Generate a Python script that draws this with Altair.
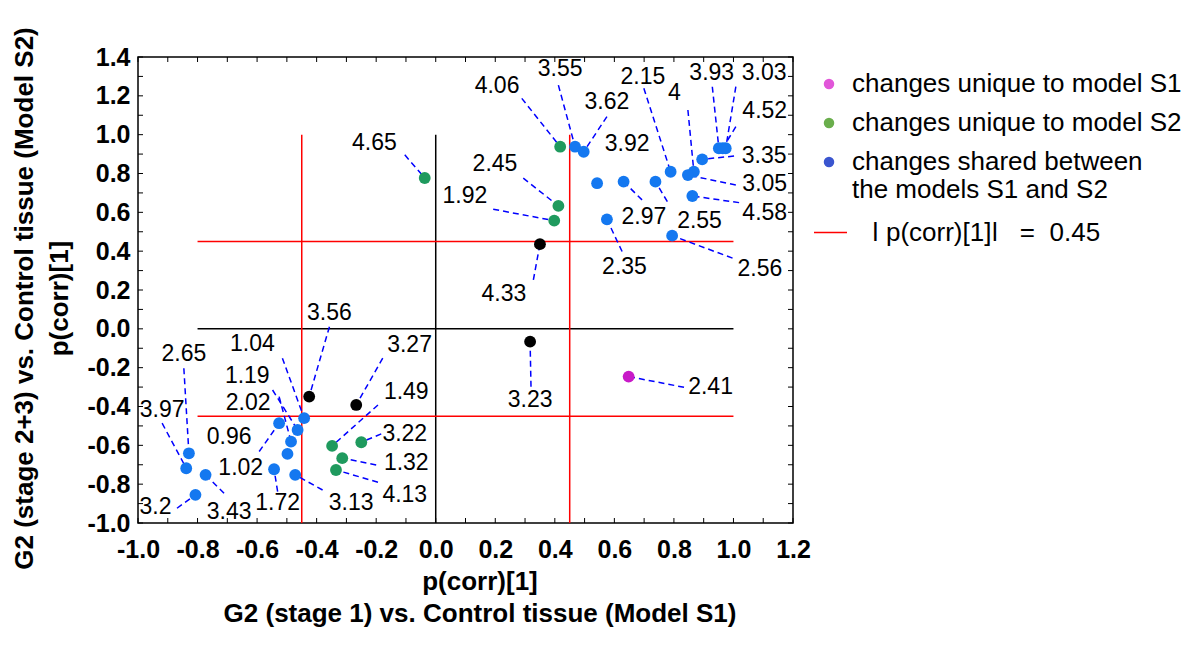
import altair as alt
import pandas as pd
import numpy as np

# ---------------- data ----------------
labels = ["4.06", "3.55", "3.62", "3.92", "2.97", "2.55", "2.15", "4", "3.93", "3.03",
          "4.52", "3.35", "3.05", "4.58", "2.35", "2.56", "2.45", "1.92", "4.33", "4.65",
          "3.23", "2.41", "3.56", "3.27", "1.49", "3.22", "1.32", "4.13", "1.04", "1.19",
          "2.02", "0.96", "1.02", "1.72", "3.13", "2.65", "3.97", "3.43", "3.2"]
groups = ["S2", "shared", "shared", "shared", "shared", "shared", "shared", "shared", "shared", "shared",
          "shared", "shared", "shared", "shared", "shared", "shared", "S2", "S2", "none", "S2",
          "none", "S1", "none", "none", "S2", "S2", "S2", "S2", "shared", "shared",
          "shared", "shared", "shared", "shared", "shared", "shared", "shared", "shared", "shared"]
pcorr_s1 = [0.418, 0.468, 0.497, 0.542, 0.631, 0.738, 0.789, 0.867, 0.951, 0.974,
            0.964, 0.895, 0.847, 0.862, 0.575, 0.794, 0.412, 0.398, 0.350, -0.037,
            0.317, 0.648, -0.425, -0.267, -0.348, -0.250, -0.314, -0.335, -0.442, -0.464,
            -0.486, -0.526, -0.498, -0.543, -0.472, -0.829, -0.838, -0.773, -0.807]
pcorr_s2 = [0.938, 0.938, 0.912, 0.750, 0.758, 0.758, 0.809, 0.809, 0.930, 0.930,
            0.930, 0.873, 0.792, 0.684, 0.564, 0.480, 0.633, 0.557, 0.436, 0.777,
            -0.066, -0.246, -0.349, -0.392, -0.603, -0.584, -0.666, -0.727, -0.460, -0.521,
            -0.581, -0.486, -0.644, -0.723, -0.752, -0.641, -0.718, -0.752, -0.855]

# label anchor (text centre) and leader-line start, in data units
label_x = [0.206, 0.418, 0.575, 0.643, 0.699, 0.886, 0.696, 0.802, 0.927, 1.103,
           1.105, 1.103, 1.105, 1.105, 0.634, 1.089, 0.199, 0.098, 0.229, -0.206,
           0.317, 0.923, -0.357, -0.088, -0.099, -0.104, -0.099, -0.104, -0.616, -0.633,
           -0.630, -0.694, -0.655, -0.531, -0.284, -0.846, -0.919, -0.694, -0.941]
label_y = [1.251, 1.336, 1.170, 0.952, 0.578, 0.557, 1.299, 1.213, 1.320, 1.320,
           1.123, 0.890, 0.746, 0.597, 0.320, 0.308, 0.849, 0.684, 0.180, 0.957,
           -0.366, -0.302, 0.080, -0.083, -0.323, -0.541, -0.692, -0.855, -0.078, -0.241,
           -0.382, -0.555, -0.718, -0.898, -0.898, -0.130, -0.418, -0.943, -0.916]
lead_x = [0.289, 0.412, 0.575, None, 0.693, 0.778, 0.699, 0.847, 0.929, 1.008,
          1.008, 1.002, 1.008, 1.019, 0.626, 0.997, 0.294, 0.193, 0.328, -0.104,
          0.320, 0.834, -0.357, -0.178, -0.194, -0.183, -0.200, -0.194, -0.515, -0.548,
          -0.526, -0.593, None, -0.531, -0.380, -0.846, -0.919, -0.711, -0.869]
lead_y = [1.187, 1.255, 1.093, None, 0.664, 0.655, 1.239, 1.127, 1.247, 1.247,
          1.041, 0.890, 0.741, 0.650, 0.398, 0.364, 0.776, 0.616, 0.252, 0.896,
          -0.298, -0.301, 0.011, -0.151, -0.392, -0.541, -0.701, -0.790, -0.151, -0.315,
          -0.349, -0.632, None, -0.838, -0.830, -0.203, -0.486, -0.847, -0.924]

group_names = ["S1", "S2", "shared", "none"]
group_colors = ["#C81AC8", "#1F9A5E", "#1478F0", "#000000"]

legend_labels = ["changes unique to model S1", "changes unique to model S2",
                 "changes shared between the models S1 and S2"]
legend_colors = ["#E156D9", "#6AAE4C", "#3A55CF"]
threshold = 0.45
threshold_label = "\u01c0 p(corr)[1]\u01c0\u00a0\u00a0\u00a0=\u00a0\u00a00.45"

x_ticks = [-1.0, -0.8, -0.6, -0.4, -0.2, 0.0, 0.2, 0.4, 0.6, 0.8, 1.0, 1.2]
y_ticks = [-1.0, -0.8, -0.6, -0.4, -0.2, 0.0, 0.2, 0.4, 0.6, 0.8, 1.0, 1.2, 1.4]
minor_x = [round(v, 1) for v in np.arange(-1.0, 1.21, 0.1)]
minor_y = [round(v, 1) for v in np.arange(-1.0, 1.41, 0.1)]

W, H = 655, 466
FONT = "Liberation Sans"

pts = pd.DataFrame({"label": labels, "group": groups, "x": pcorr_s1, "y": pcorr_s2,
                    "lx": label_x, "ly": label_y, "ax": lead_x, "ay": lead_y})
leads = pts.dropna(subset=["ax"])

xs = alt.Scale(domain=[-1.0, 1.2], nice=False, zero=False)
ys = alt.Scale(domain=[-1.0, 1.4], nice=False, zero=False)

lab_expr = "datum.value < 0 ? '-' + format(-datum.value, '.1f') : format(datum.value, '.1f')"
x_axis = alt.Axis(values=x_ticks, labelExpr=lab_expr, grid=False, domain=False, ticks=False,
                  labelOverlap=False, labelFlush=False,
                  labelFont=FONT, labelFontSize=25, labelFontWeight="bold", labelColor="black",
                  labelPadding=14,
                  title=["p(corr)[1]", "G2 (stage 1) vs. Control tissue (Model S1)"],
                  titleFont=FONT, titleFontSize=26, titleFontWeight="bold", titleColor="black",
                  titleLineHeight=32, titleBaseline="alphabetic", titleY=66, titleX=W / 2 + 14)
y_axis = alt.Axis(values=y_ticks, labelExpr=lab_expr, grid=False, domain=False, ticks=False,
                  labelOverlap=False, labelFlush=False,
                  labelFont=FONT, labelFontSize=25, labelFontWeight="bold", labelColor="black",
                  labelPadding=8,
                  title=["G2 (stage 2+3) vs. Control tissue (Model S2)", "p(corr)[1]"],
                  titleFont=FONT, titleFontSize=26, titleFontWeight="bold", titleColor="black",
                  titleLineHeight=35, titleBaseline="alphabetic", titleAngle=270,
                  titleX=-106, titleY=H / 2 + 8, titleAlign="center")


def X(field):
    return alt.X(field, scale=xs, axis=x_axis)


def Y(field):
    return alt.Y(field, scale=ys, axis=y_axis)


# reference lines
black_df = pd.DataFrame({"x": [0.0, -0.8], "x2": [0.0, 1.0], "y": [-1.0, 0.0], "y2": [1.0, 0.0]})
red_df = pd.DataFrame({"x": [-threshold, threshold, -0.8, -0.8],
                       "x2": [-threshold, threshold, 1.0, 1.0],
                       "y": [-1.0, -1.0, threshold, -threshold],
                       "y2": [1.0, 1.0, threshold, -threshold],
                       "lab": [threshold_label] * 4})

black_rules = alt.Chart(black_df).mark_rule(color="black", strokeWidth=1.5).encode(
    x=X("x:Q"), x2="x2:Q", y=Y("y:Q"), y2="y2:Q")

red_rules = alt.Chart(red_df).mark_rule(strokeWidth=1.5).encode(
    x=X("x:Q"), x2="x2:Q", y=Y("y:Q"), y2="y2:Q",
    color=alt.Color("lab:N", scale=alt.Scale(range=["#FF0000"]),
                    legend=alt.Legend(orient="none", legendX=675, legendY=158, title=None,
                                      symbolType="stroke", symbolSize=1089, symbolStrokeWidth=1.5,
                                      labelFont=FONT, labelFontSize=26, labelColor="black",
                                      labelOffset=24, padding=0, labelLimit=400)))

leader = alt.Chart(leads).mark_rule(color="#0000FF", strokeWidth=1.5, strokeDash=[6, 4]).encode(
    x=X("ax:Q"), y=Y("ay:Q"), x2="x:Q", y2="y:Q")

dots = alt.Chart(pts).mark_circle(size=140, opacity=1).encode(
    x=X("x:Q"), y=Y("y:Q"),
    color=alt.Color("group:N", scale=alt.Scale(domain=group_names, range=group_colors), legend=None))

texts = alt.Chart(pts).mark_text(font=FONT, fontSize=23, color="black").encode(
    x=X("lx:Q"), y=Y("ly:Q"), text="label:N")

leg_df = pd.DataFrame({"cat": legend_labels, "x": [0.0] * 3, "y": [0.0] * 3})
legend_layer = alt.Chart(leg_df).mark_circle(opacity=0, size=0).encode(
    x=X("x:Q"), y=Y("y:Q"),
    color=alt.Color("cat:N", scale=alt.Scale(domain=legend_labels, range=legend_colors),
                    legend=alt.Legend(orient="none", legendX=678, legendY=14, title=None,
                                      symbolType="circle", symbolSize=110, symbolOpacity=1,
                                      symbolStrokeWidth=0,
                                      labelFont=FONT, labelFontSize=26, labelColor="black",
                                      labelOffset=10, padding=0, rowPadding=13, labelLimit=400,
                                      labelExpr="datum.label == 'changes shared between the models S1 and S2' ? ['changes shared between', 'the models S1 and S2'] : datum.label")))

# inward frame ticks
tx = pd.DataFrame({"t": minor_x})
ty = pd.DataFrame({"t": minor_y})
tick_bottom = alt.Chart(tx).mark_rule(color="black", strokeWidth=1).encode(
    x=X("t:Q"), y=alt.value(H), y2=alt.value(H - 5))
tick_top = alt.Chart(tx).mark_rule(color="black", strokeWidth=1).encode(
    x=X("t:Q"), y=alt.value(0), y2=alt.value(5))
tick_left = alt.Chart(ty).mark_rule(color="black", strokeWidth=1).encode(
    y=Y("t:Q"), x=alt.value(0), x2=alt.value(5))
tick_right = alt.Chart(ty).mark_rule(color="black", strokeWidth=1).encode(
    y=Y("t:Q"), x=alt.value(W), x2=alt.value(W - 5))

chart = alt.layer(black_rules, red_rules, tick_bottom, tick_top, tick_left, tick_right,
                  leader, dots, texts, legend_layer).resolve_scale(color="independent").properties(
    width=W, height=H,
    autosize=alt.AutoSizeParams(type="none"),
    padding={"left": 138, "top": 57, "right": 405, "bottom": 123},
    background="white",
).configure_view(stroke="black", strokeWidth=1.5).configure_axis(
    labelOverlap=False, labelFlush=False).configure_axisY(labelOverlap=False)

chart.save("out.html", embed_options={"renderer": "svg", "actions": False})
